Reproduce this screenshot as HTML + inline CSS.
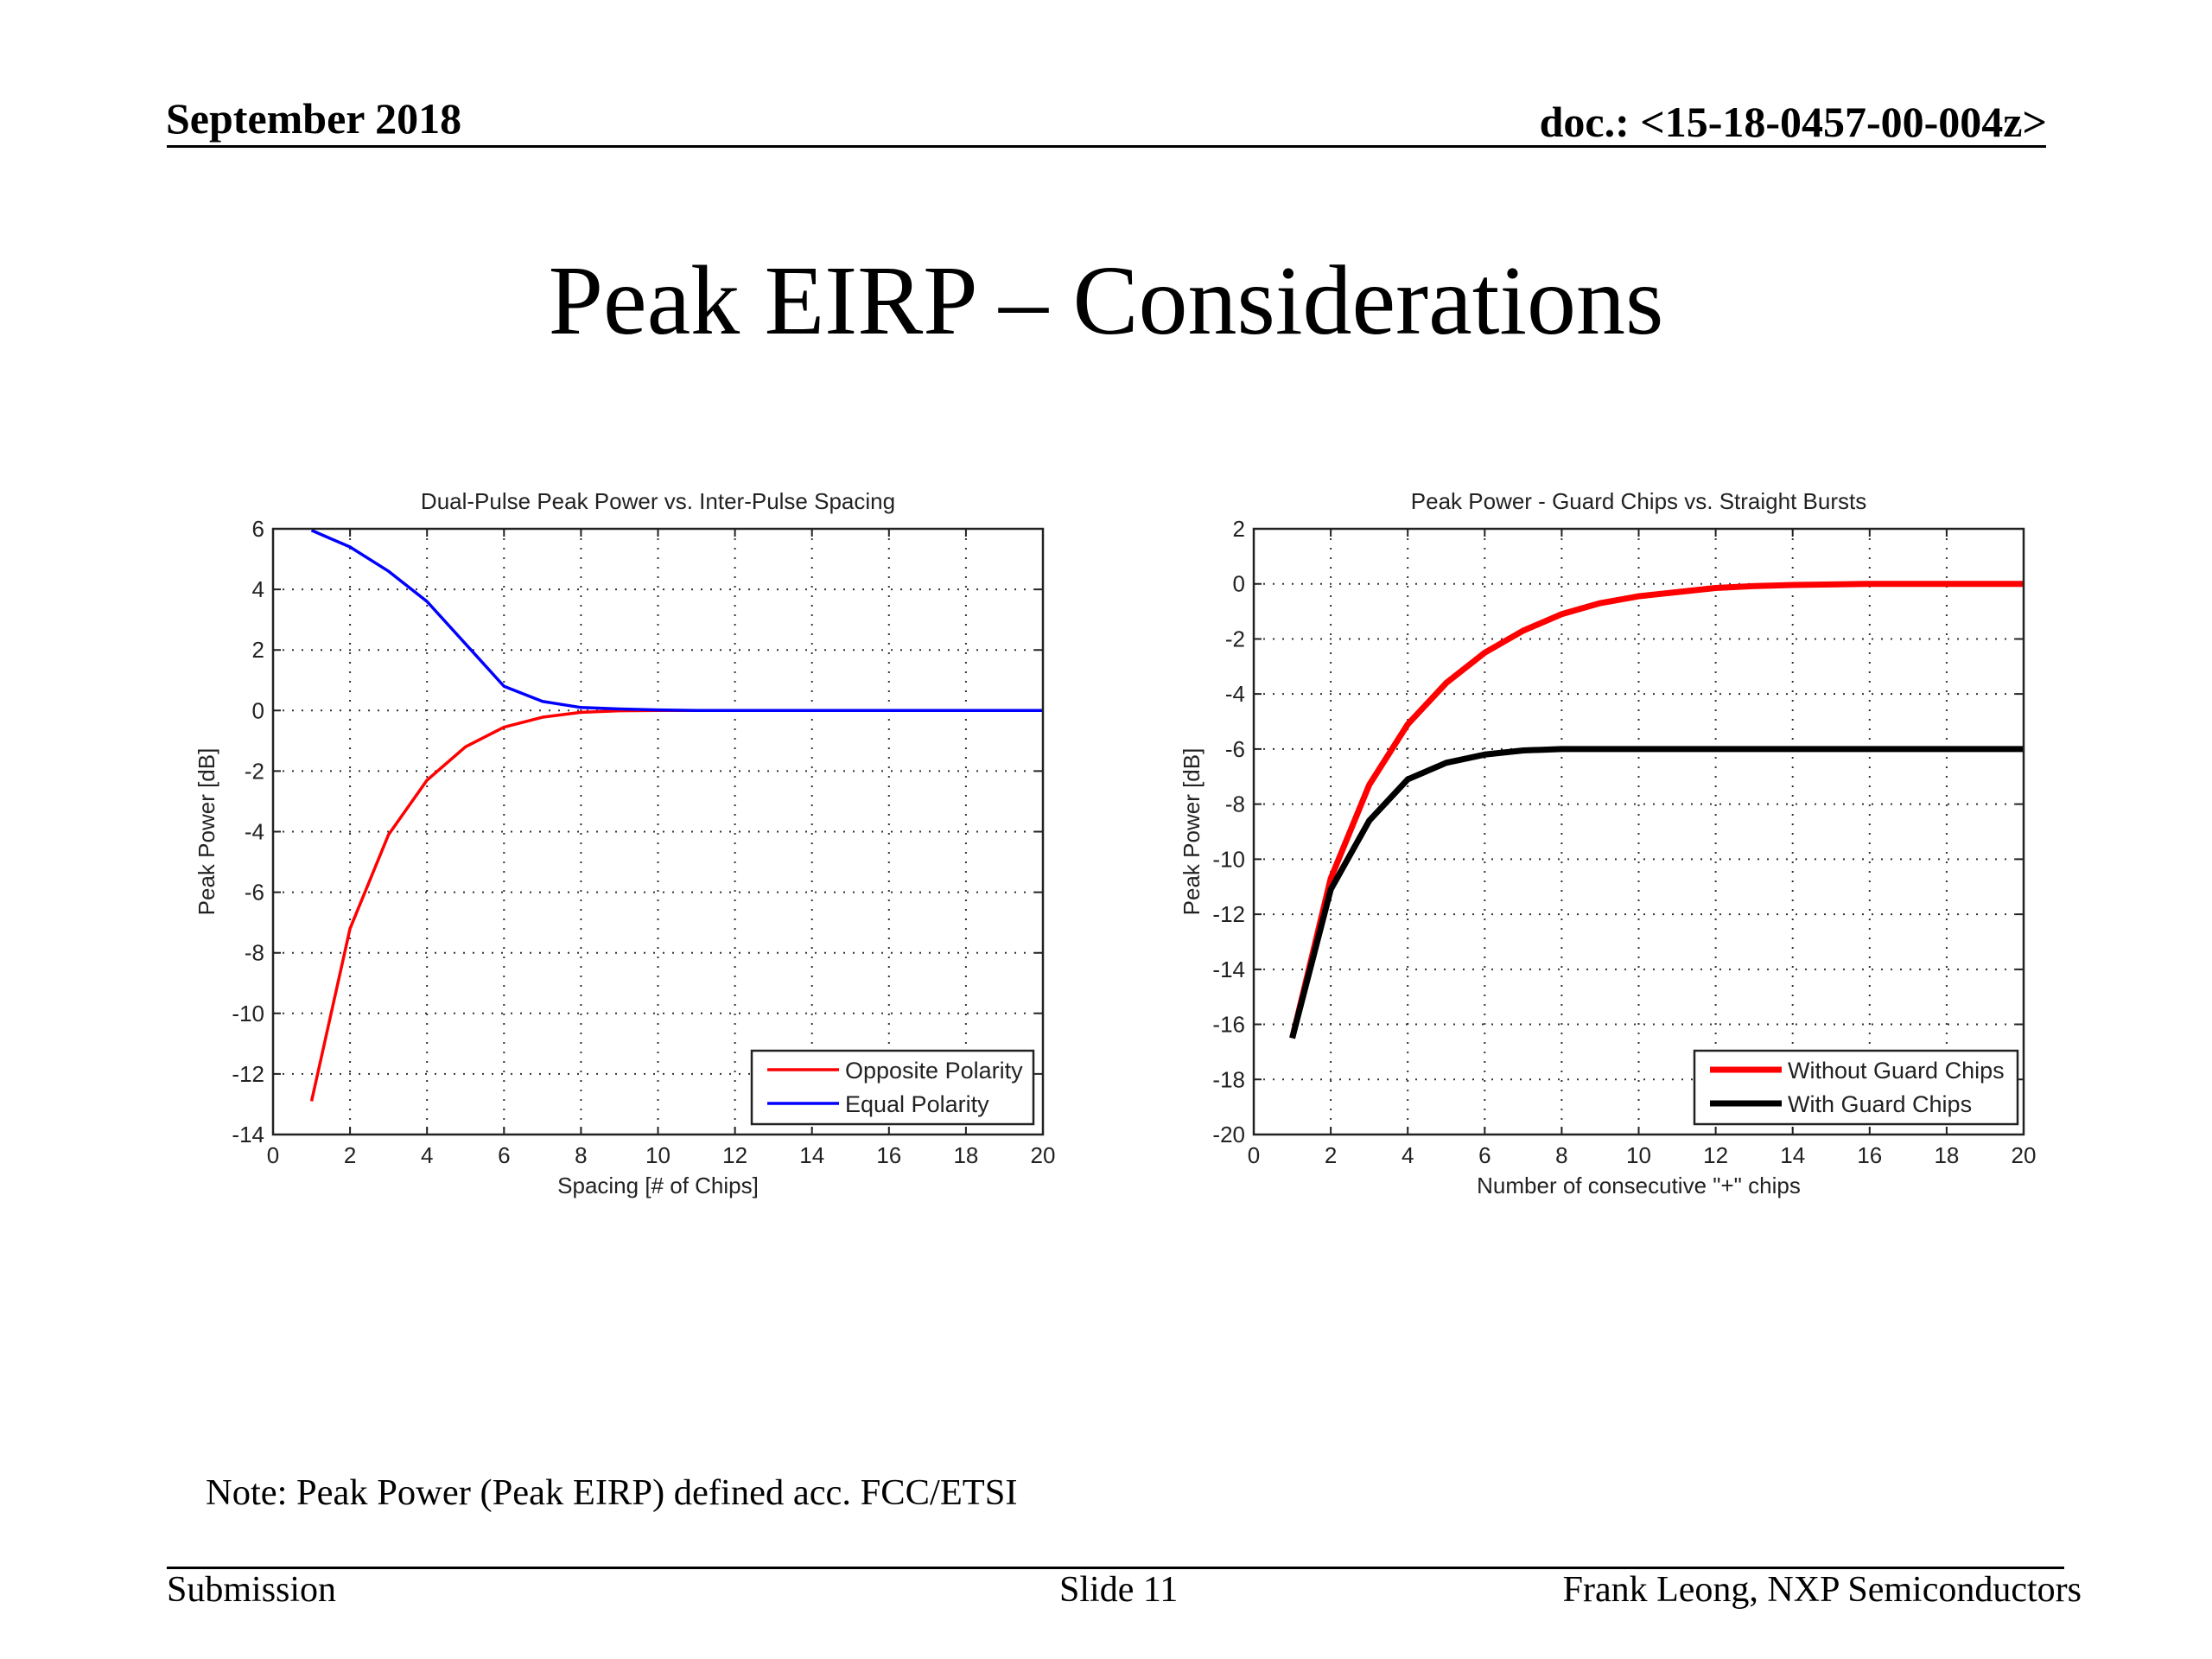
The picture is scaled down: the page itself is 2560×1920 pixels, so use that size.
<!DOCTYPE html>
<html><head><meta charset="utf-8"><style>
html,body{margin:0;padding:0;background:#fff}
body{width:2560px;height:1920px;position:relative;overflow:hidden;font-family:"Liberation Serif",serif;color:#000}
.t{position:absolute;white-space:nowrap}
</style></head><body>
<div class="t" style="left:192px;top:108px;font-size:50px;font-weight:bold">September 2018</div>
<div class="t" style="right:191px;top:112px;font-size:50px;font-weight:bold">doc.: &lt;15-18-0457-00-004z&gt;</div>
<div style="position:absolute;left:193px;top:168px;width:2175px;height:3px;background:#000"></div>
<div class="t" style="left:0;width:2560px;text-align:center;top:282px;font-size:114px">Peak EIRP – Considerations</div>
<svg id="charts" style="position:absolute;left:0;top:0" width="2560" height="1920" font-family="Liberation Sans, sans-serif"></svg>
<div class="t" style="left:238px;top:1703px;font-size:42.5px">Note: Peak Power (Peak EIRP) defined acc. FCC/ETSI</div>
<div style="position:absolute;left:193px;top:1813px;width:2196px;height:3px;background:#000"></div>
<div class="t" style="left:193px;top:1816px;font-size:42px">Submission</div>
<div class="t" style="left:1226px;top:1816px;font-size:42px">Slide 11</div>
<div class="t" style="right:151px;top:1816px;font-size:42px">Frank Leong, NXP Semiconductors</div>
<script>
const xValues=[1,2,3,4,5,6,7,8,9,10,11,12,13,14,15,16,17,18,19,20];
const oppositePolarity=[-12.9,-7.2,-4.1,-2.3,-1.2,-0.55,-0.22,-0.06,-0.01,0,0,0,0,0,0,0,0,0,0,0];
const equalPolarity=[5.95,5.4,4.6,3.6,2.2,0.8,0.3,0.1,0.05,0.02,0,0,0,0,0,0,0,0,0,0];
const withoutGuard=[-16.5,-10.7,-7.3,-5.1,-3.6,-2.5,-1.7,-1.1,-0.7,-0.45,-0.3,-0.15,-0.08,-0.04,-0.02,0,0,0,0,0];
const withGuard=[-16.5,-11.1,-8.6,-7.1,-6.5,-6.2,-6.05,-6.0,-6,-6,-6,-6,-6,-6,-6,-6,-6,-6,-6,-6];
const xTicks=[0,2,4,6,8,10,12,14,16,18,20];
const yTicksLeft=[6,4,2,0,-2,-4,-6,-8,-10,-12,-14];
const yTicksRight=[2,0,-2,-4,-6,-8,-10,-12,-14,-16,-18,-20];
const NS='http://www.w3.org/2000/svg';
const svg=document.getElementById('charts');
function mk(tag,attrs,parent){const e=document.createElementNS(NS,tag);for(const k in attrs)e.setAttribute(k,attrs[k]);(parent||svg).appendChild(e);return e;}
function chart(o){
  const g=mk('g',{});
  
  
  const L=o.left,T=612,R=o.right,B=1313;
  const ymax=o.yTicks[0],ymin=o.yTicks[o.yTicks.length-1];
  const xs=v=>L+(v-0)/20*(R-L);
  const ys=v=>T+(ymax-v)/(ymax-ymin)*(B-T);
  xTicks.forEach(t=>{
    if(t>0&&t<20){const l=mk('line',{x1:xs(t),x2:xs(t),y1:T,y2:B,stroke:'#333','stroke-width':2,'stroke-dasharray':'2 9'},g);
    }
    const tk=mk('path',{d:`M${xs(t)} ${B}v-9M${xs(t)} ${T}v9`,stroke:'#222','stroke-width':2},g);
    
    const tx=mk('text',{x:xs(t),y:1346,'font-size':26,'text-anchor':'middle',fill:'#222'},g);
    
    tx.textContent=t;
  });
  o.yTicks.forEach(t=>{
    if(t<ymax&&t>ymin){const l=mk('line',{x1:L,x2:R,y1:ys(t),y2:ys(t),stroke:'#333','stroke-width':2,'stroke-dasharray':'2 9'},g);
    }
    const tk=mk('path',{d:`M${L} ${ys(t)}h9M${R} ${ys(t)}h-9`,stroke:'#222','stroke-width':2},g);
    
    const tx=mk('text',{x:L-10,y:ys(t)+9,'font-size':26,'text-anchor':'end',fill:'#222'},g);
    
    tx.textContent=t;
  });
  o.series.forEach(s=>{
    const p=mk('polyline',{points:xValues.map((x,i)=>xs(x)+','+ys(s.data[i])).join(' '),fill:'none',stroke:s.color,'stroke-width':o.lw,'stroke-linejoin':'round'},g);
    
  });
  const fr=mk('rect',{x:L,y:T,width:R-L,height:B-T,fill:'none',stroke:'#222','stroke-width':2.5},g);
  
  const ti=mk('text',{x:(L+R)/2,y:589,'font-size':26,'text-anchor':'middle',fill:'#222'},g);
  ti.textContent=o.title;
  const xt=mk('text',{x:(L+R)/2,y:1381,'font-size':26,'text-anchor':'middle',fill:'#222'},g);
  xt.textContent=o.xtitle;
  const yt=mk('text',{x:0,y:0,'font-size':26,'text-anchor':'middle',fill:'#222',transform:`translate(${o.ylx},${(T+B)/2}) rotate(-90)`},g);
  yt.textContent='Peak Power [dB]';
  const lg=mk('g',{},g);
  
  const bx=o.legL,by=1216,bw=o.legR-o.legL,bh=85;
  mk('rect',{x:bx,y:by,width:bw,height:bh,fill:'#fff',stroke:'#222','stroke-width':2.5},lg);
  o.series.forEach((s,i)=>{
    const yy=by+22+i*39;
    const e=mk('g',{},lg);
    
    mk('line',{x1:bx+18,x2:bx+101,y1:yy,y2:yy,stroke:s.color,'stroke-width':o.lw},e);
    const t=mk('text',{x:bx+108,y:yy+10,'font-size':27,fill:'#222'},e);t.textContent=s.label;
  });
}
chart({name:'dual-pulse-chart',left:316,right:1207,yTicks:yTicksLeft,lw:3.5,ylx:248,legL:870,legR:1196,
  title:'Dual-Pulse Peak Power vs. Inter-Pulse Spacing',xtitle:'Spacing [# of Chips]',
  series:[{name:'opposite-polarity-line',label:'Opposite Polarity',color:'#ff0000',data:oppositePolarity},
          {name:'equal-polarity-line',label:'Equal Polarity',color:'#0000ff',data:equalPolarity}]});
chart({name:'guard-chips-chart',left:1451,right:2342,yTicks:yTicksRight,lw:7,ylx:1388,legL:1961,legR:2335,
  title:'Peak Power - Guard Chips vs. Straight Bursts',xtitle:'Number of consecutive "+" chips',
  series:[{name:'without-guard-chips-line',label:'Without Guard Chips',color:'#ff0000',data:withoutGuard},
          {name:'with-guard-chips-line',label:'With Guard Chips',color:'#000000',data:withGuard}]});
</script>
</body></html>
